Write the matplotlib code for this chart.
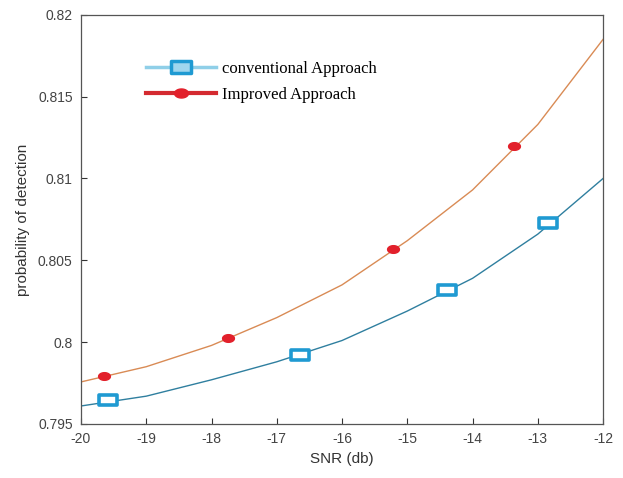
import numpy as np
import matplotlib
matplotlib.use("Agg")
import matplotlib.pyplot as plt
from matplotlib.lines import Line2D
from matplotlib.path import Path

# ---------------------------------------------------------------
# Data
# ---------------------------------------------------------------
snr = [-20, -19, -18, -17, -16, -15, -14, -13, -12]
pd_conv = [0.7961, 0.7967, 0.7977, 0.7988, 0.8001, 0.8019, 0.8039, 0.8066, 0.8100]
pd_impr = [0.79757, 0.7985, 0.7998, 0.8015, 0.8035, 0.8062, 0.8093, 0.8133, 0.8185]

conv_mk_x = [-19.59, -16.64, -14.39, -12.84]
conv_mk_y = [0.79647, 0.7992, 0.8032, 0.80729]
impr_mk_x = [-19.65, -17.75, -15.22, -13.36]
impr_mk_y = [0.79793, 0.80026, 0.8057, 0.81199]

x_ticks = [-20, -19, -18, -17, -16, -15, -14, -13, -12]
y_ticks = [0.795, 0.8, 0.805, 0.81, 0.815, 0.82]
y_labels = ["0.795", "0.8", "0.805", "0.81", "0.815", "0.82"]

# custom marker shapes
rect = Path([(-1, -0.55), (1, -0.55), (1, 0.55), (-1, 0.55), (-1, -0.55)],
            [Path.MOVETO, Path.LINETO, Path.LINETO, Path.LINETO, Path.CLOSEPOLY])
t = np.linspace(0, 2 * np.pi, 40)
ellipse = Path(np.column_stack([np.cos(t), 0.65 * np.sin(t)]), closed=True)

plt.rcParams["font.family"] = ["Liberation Sans", "DejaVu Sans"]

fig = plt.figure(figsize=(6.23, 4.78), dpi=100)
ax = fig.add_axes([0.130, 0.113, 0.838, 0.856])

ax.plot(snr, pd_conv, color="#2f7f9f", lw=1.0)
ax.plot(snr, pd_impr, color="#d98b55", lw=1.0)
ax.plot(conv_mk_x, conv_mk_y, ls="none", marker=rect, ms=13,
        mfc="white", mec="#1f9ad2", mew=2.6)
ax.plot(impr_mk_x, impr_mk_y, ls="none", marker=ellipse, ms=8.5,
        mfc="#e2202b", mec="#e2202b")

ax.set_xlim(-20, -12)
ax.set_ylim(0.795, 0.82)
ax.set_xticks(x_ticks)
ax.set_xticklabels([str(v) for v in x_ticks])
ax.set_yticks(y_ticks)
ax.set_yticklabels(y_labels)
ax.tick_params(direction="in", length=4, labelsize=10, colors="#333333",
               labelcolor="#444444", pad=6)
for s in ax.spines.values():
    s.set_color("#555555")
    s.set_linewidth(0.9)

ax.set_xlabel("SNR (db)", fontsize=11, color="#333333", labelpad=4)
ax.set_ylabel("probability of detection", fontsize=11, color="#333333", labelpad=6)

handles = [
    Line2D([], [], color="#8fcfe8", lw=2.5, marker=rect, ms=15,
           mfc="#9fd6ee", mec="#1f9ad2", mew=2.5),
    Line2D([], [], color="#d42a30", lw=3, marker=ellipse, ms=10,
           mfc="#e2202b", mec="#e2202b"),
]
ax.legend(handles, ["conventional Approach", "Improved Approach"],
          loc="upper left", bbox_to_anchor=(0.095, 0.925), frameon=False,
          handlelength=4.2, handletextpad=0.4, labelspacing=0.6,
          prop={"family": "Liberation Serif", "size": 12})

fig.savefig("out.png", dpi=100, facecolor="white")
